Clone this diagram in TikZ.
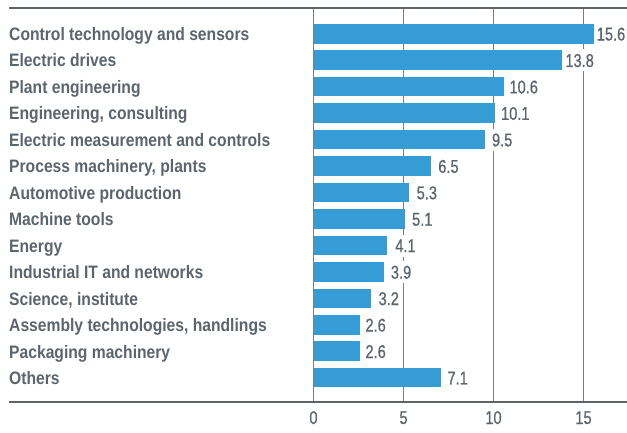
\documentclass[tikz,border=0pt]{standalone}
\usepackage{fontspec}
\newfontfamily\labelfont{Liberation Sans}[FakeStretch=0.87]
\newfontfamily\numfont{Liberation Sans}[FakeStretch=0.79,FakeBold=0.6]
\definecolor{bar}{HTML}{369CD6}
\definecolor{txt}{HTML}{5B656E}
\definecolor{axis}{HTML}{5F6468}
\definecolor{grid}{HTML}{7A7E82}
\tikzset{
  catlabel/.style={anchor=base west, inner sep=0pt, text=txt, font=\labelfont\bfseries\fontsize{18}{18}\selectfont},
  vallabel/.style={anchor=base west, fill=white, inner xsep=1pt, inner ysep=4.5pt, text height=13pt, text depth=0pt, text=txt, font=\numfont\fontsize{18.5}{18.5}\selectfont},
  ticklabel/.style={anchor=base, inner sep=0pt, text=txt, font=\numfont\fontsize{18.5}{18.5}\selectfont},
  barbox/.style={fill=bar, draw=none},
  gridline/.style={draw=grid, line width=0.9pt},
  axisline/.style={draw=axis, line width=2pt}
}
\begin{document}
\begin{tikzpicture}[x=1pt, y=-1pt]
\useasboundingbox (0,0) rectangle (627,432);
% grid lines
\foreach \v [count=\k] in {0,5,10,15} {
  \coordinate (gt\k) at ({313.5+\v*18},8);
  \coordinate (gb\k) at ({313.5+\v*18},401.7);
  \draw[gridline] (gt\k) -- (gb\k);
  \node[ticklabel] (tick\k) at ({313.5+\v*18},424) {\v};
}
% bars
\foreach \lab/\val/\gap [count=\i] in {
  Control technology and sensors/15.6/3,
  Electric drives/13.8/4,
  Plant engineering/10.6/5.7,
  {Engineering, consulting}/10.1/6.3,
  Electric measurement and controls/9.5/8,
  {Process machinery, plants}/6.5/8.3,
  Automotive production/5.3/8.3,
  Machine tools/5.1/7.3,
  Energy/4.1/8.5,
  Industrial IT and networks/3.9/7.7,
  {Science, institute}/3.2/8,
  {Assembly technologies, handlings}/2.6/5.7,
  Packaging machinery/2.6/5.7,
  Others/7.1/6.7} {
  \pgfmathsetmacro{\yc}{33.7+(\i-1)*26.46}
  \path[barbox] (313.5,{\yc-9.8}) rectangle ({313.5+\val*18},{\yc+9.8});
  \node[catlabel] (cat\i) at (9,{\yc+6.8}) {\lab};
  \node[vallabel] (val\i) at ({313.5+\val*18+\gap-1.7},{\yc+6.8}) {\val};
}
% top and bottom lines
\coordinate (tl) at (9,8);
\coordinate (tr) at (627,8);
\coordinate (bl) at (9,401.7);
\coordinate (br) at (627,401.7);
\draw[axisline] (tl) -- (tr);
\draw[axisline] (bl) -- (br);
\end{tikzpicture}
\end{document}
